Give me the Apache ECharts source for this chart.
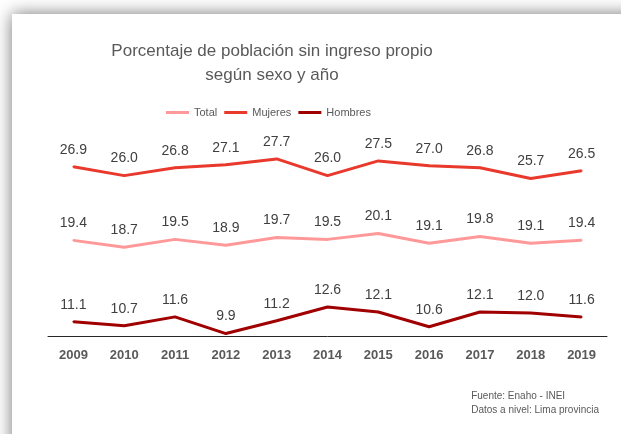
<!DOCTYPE html>
<html>
<head>
<meta charset="utf-8">
<script src="https://cdn.jsdelivr.net/npm/echarts@6/dist/echarts.min.js"></script>
<style>
html,body{margin:0;padding:0;background:#fff;}
#c{width:621px;height:434px;}
</style>
</head>
<body>
<div id="c"></div>
<script>
const years = ['2009','2010','2011','2012','2013','2014','2015','2016','2017','2018','2019'];
const total = [19.4,18.7,19.5,18.9,19.7,19.5,20.1,19.1,19.8,19.1,19.4];
const mujeres = [26.9,26.0,26.8,27.1,27.7,26.0,27.5,27.0,26.8,25.7,26.5];
const hombres = [11.1,10.7,11.6,9.9,11.2,12.6,12.1,10.6,12.1,12.0,11.6];

const REG = '"Liberation Sans", Arial, sans-serif';

const chart = echarts.init(document.getElementById('c'), null, {renderer:'canvas'});

function mkSeries(name, data, color){
  return {
    name: name, type: 'line', data: data,
    symbol: 'circle', symbolSize: 2, showSymbol: true, showAllSymbol: true,
    lineStyle: {width: 3, color: color}, itemStyle: {color: color},
    label: {show: true, position: 'top', distance: 9, color: '#404040',
      fontFamily: REG, fontSize: 14, formatter: p => p.value.toFixed(1)},
    emphasis: {disabled: true}, z: 3
  };
}

chart.setOption({
  animation: false,
  backgroundColor: '#ffffff',
  graphic: [{
    type: 'rect', z: -10, silent: true,
    shape: {x: 12, y: 14, width: 720, height: 520},
    style: {fill: '#ffffff', shadowBlur: 16, shadowColor: 'rgba(0,0,0,0.55)', shadowOffsetX: 0, shadowOffsetY: 0}
  }, {
    type: 'text', right: 22, top: 389, z: 5,
    style: {text: 'Fuente: Enaho - INEI\nDatos a nivel: Lima provincia', align: 'right',
      fill: '#595959', font: '10px ' + REG, lineHeight: 14}
  }],
  title: {
    text: 'Porcentaje de población sin ingreso propio\nsegún sexo y año',
    left: 267, top: 34, textAlign: 'center',
    textStyle: {fontFamily: REG, fontSize: 17, fontWeight: 'normal', color: '#595959', lineHeight: 24}
  },
  legend: {
    data: ['Total','Mujeres','Hombres'], left: 161, top: 102,
    icon: 'rect', itemWidth: 23, itemHeight: 3, itemGap: 7,
    textStyle: {fontFamily: REG, fontSize: 11, color: '#595959'}
  },
  grid: {left: 48, right: 14, top: 156, bottom: 97.5},
  xAxis: {
    type: 'category', data: years, boundaryGap: true,
    axisLine: {lineStyle: {color: '#262626', width: 1}},
    axisTick: {show: false},
    axisLabel: {fontFamily: REG, fontSize: 13, fontWeight: 'bold', color: '#595959', margin: 12}
  },
  yAxis: {type: 'value', show: false, min: 9.6, max: 28, splitLine: {show: false}},
  series: [
    mkSeries('Total', total, '#FF9999'),
    mkSeries('Mujeres', mujeres, '#E8392C'),
    mkSeries('Hombres', hombres, '#A00000')
  ]
});
</script>
</body>
</html>
